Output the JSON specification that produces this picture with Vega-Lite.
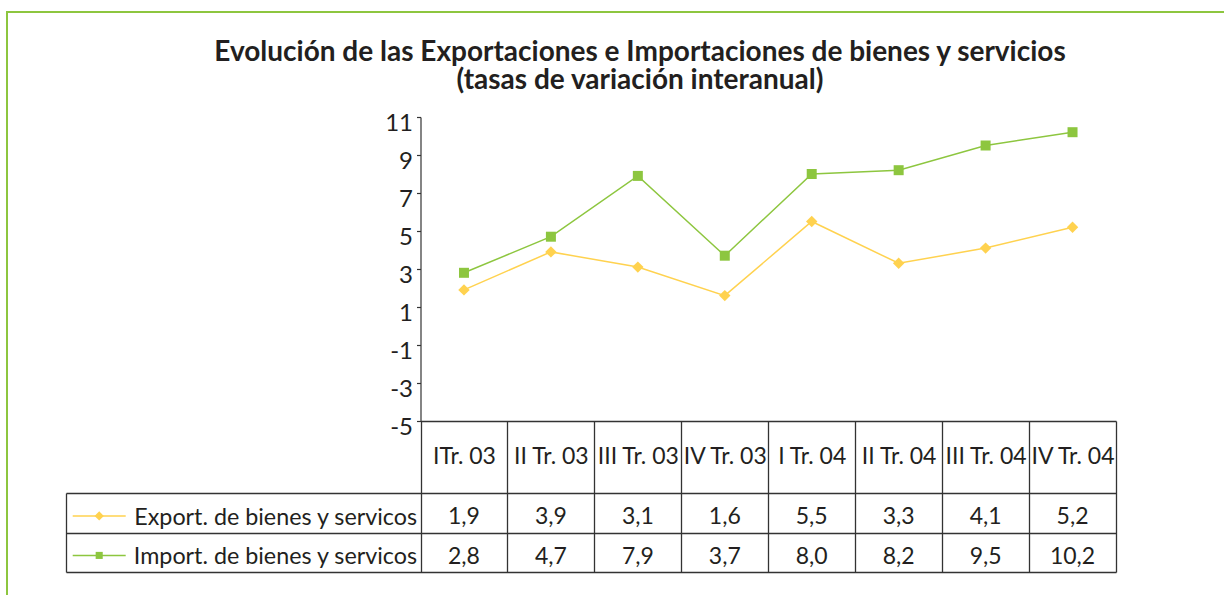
{
  "$schema": "https://vega.github.io/schema/vega-lite/v6.json",
  "width": 1218,
  "height": 585,
  "autosize": {"type": "none"},
  "padding": {"left": 7, "top": 12, "right": -1, "bottom": -2},
  "background": "white",
  "title": {
    "text": ["Evolución de las Exportaciones e Importaciones de bienes y servicios", "(tasas de variación interanual)"],
    "anchor": "middle",
    "frame": "group",
    "font": "Lato",
    "fontSize": 28,
    "fontWeight": "bold",
    "color": "#231f20",
    "lineHeight": 28,
    "offset": -83,
    "dx": 24
  },
  "datasets": {
    "d": [
      {"q": "ITr. 03", "serie": "Export. de bienes y servicos", "v": 1.9},
      {"q": "II Tr. 03", "serie": "Export. de bienes y servicos", "v": 3.9},
      {"q": "III Tr. 03", "serie": "Export. de bienes y servicos", "v": 3.1},
      {"q": "IV Tr. 03", "serie": "Export. de bienes y servicos", "v": 1.6},
      {"q": "I Tr. 04", "serie": "Export. de bienes y servicos", "v": 5.5},
      {"q": "II Tr. 04", "serie": "Export. de bienes y servicos", "v": 3.3},
      {"q": "III Tr. 04", "serie": "Export. de bienes y servicos", "v": 4.1},
      {"q": "IV Tr. 04", "serie": "Export. de bienes y servicos", "v": 5.2},
      {"q": "ITr. 03", "serie": "Import. de bienes y servicos", "v": 2.8},
      {"q": "II Tr. 03", "serie": "Import. de bienes y servicos", "v": 4.7},
      {"q": "III Tr. 03", "serie": "Import. de bienes y servicos", "v": 7.9},
      {"q": "IV Tr. 03", "serie": "Import. de bienes y servicos", "v": 3.7},
      {"q": "I Tr. 04", "serie": "Import. de bienes y servicos", "v": 8.0},
      {"q": "II Tr. 04", "serie": "Import. de bienes y servicos", "v": 8.2},
      {"q": "III Tr. 04", "serie": "Import. de bienes y servicos", "v": 9.5},
      {"q": "IV Tr. 04", "serie": "Import. de bienes y servicos", "v": 10.2}
    ]
  },
  "data": {"name": "d"},
  "layer": [
    {
      "layer": [
        {"mark": {"type": "line", "strokeWidth": 1.5}},
        {
          "mark": {"type": "point", "filled": true, "opacity": 1},
          "encoding": {
            "shape": {"field": "serie", "type": "nominal", "scale": {"domain": ["Export. de bienes y servicos", "Import. de bienes y servicos"], "range": ["diamond", "square"]}, "legend": null},
            "size": {"field": "serie", "type": "nominal", "scale": {"domain": ["Export. de bienes y servicos", "Import. de bienes y servicos"], "range": [130, 100]}, "legend": null}
          }
        }
      ],
      "encoding": {
        "x": {
          "field": "q", "type": "nominal", "sort": null,
          "scale": {"type": "band", "domain": ["ITr. 03", "II Tr. 03", "III Tr. 03", "IV Tr. 03", "I Tr. 04", "II Tr. 04", "III Tr. 04", "IV Tr. 04"], "range": [413.5, 1109], "paddingInner": 0, "paddingOuter": 0},
          "axis": {
            "orient": "bottom", "offset": -176, "title": null, "grid": false,
            "tickBand": "extent", "tickSize": 151, "tickColor": "#333333", "tickWidth": 1.3,
            "domainColor": "#333333", "domainWidth": 1.3,
            "labelAngle": 0, "labelBaseline": "middle", "labelPadding": -116, "labelOverlap": false,
            "labelFont": "Lato", "labelFontSize": 23, "labelColor": "#231f20"
          }
        },
        "y": {
          "field": "v", "type": "quantitative",
          "scale": {"domain": [-5, 11], "range": [409, 105], "nice": false, "zero": false},
          "axis": {
            "orient": "left", "offset": -413.5, "title": null, "grid": false,
            "values": [-5, -3, -1, 1, 3, 5, 7, 9, 11], "format": "d",
            "domainColor": "#333333", "domainWidth": 1.2, "tickColor": "#333333", "tickWidth": 1.2, "tickSize": 4,
            "labelPadding": 4, "labelOffset": 6, "labelFont": "Lato", "labelFontSize": 24, "labelColor": "#231f20"
          }
        },
        "color": {"field": "serie", "type": "nominal", "scale": {"domain": ["Export. de bienes y servicos", "Import. de bienes y servicos"], "range": ["#FFD24F", "#8DC63F"]}, "legend": null}
      }
    },
    {
      "mark": {"type": "text", "font": "Lato", "fontSize": 23, "color": "#231f20", "baseline": "middle"},
      "encoding": {
        "x": {
          "field": "q", "type": "nominal", "sort": null,
          "scale": {"type": "band", "domain": ["ITr. 03", "II Tr. 03", "III Tr. 03", "IV Tr. 03", "I Tr. 04", "II Tr. 04", "III Tr. 04", "IV Tr. 04"], "range": [413.5, 1109], "paddingInner": 0, "paddingOuter": 0},
          "axis": null
        },
        "y": {
          "field": "serie", "type": "nominal", "bandPosition": 0.62,
          "scale": {"type": "band", "domain": ["Export. de bienes y servicos", "Import. de bienes y servicos"], "range": [481, 560], "paddingInner": 0, "paddingOuter": 0},
          "axis": {
            "orient": "right", "offset": -1159, "title": null, "grid": false, "labels": false,
            "tickBand": "extent", "tickSize": 1050, "tickColor": "#333333", "tickWidth": 1.3,
            "domain": true, "domainColor": "#333333", "domainWidth": 1.3
          }
        },
        "text": {"field": "v", "type": "quantitative", "format": ".1f"}
      }
    },
    {
      "transform": [{"filter": "datum.q === 'ITr. 03'"}],
      "layer": [
        {
          "mark": {"type": "rule", "strokeWidth": 1.5},
          "encoding": {
            "x": {"datum": 0, "type": "quantitative", "scale": {"domain": [0, 2], "range": [65.7, 118.7], "nice": false, "zero": false}, "axis": null},
            "x2": {"datum": 2}
          }
        },
        {
          "mark": {"type": "point", "filled": true, "opacity": 1},
          "encoding": {
            "x": {"datum": 1, "type": "quantitative"},
            "shape": {"field": "serie", "type": "nominal", "scale": {"domain": ["Export. de bienes y servicos", "Import. de bienes y servicos"], "range": ["diamond", "square"]}, "legend": null},
            "size": {"field": "serie", "type": "nominal", "scale": {"domain": ["Export. de bienes y servicos", "Import. de bienes y servicos"], "range": [85, 50]}, "legend": null}
          }
        }
      ],
      "encoding": {
        "y": {
          "field": "serie", "type": "nominal", "bandPosition": 0.58,
          "scale": {"type": "band", "domain": ["Export. de bienes y servicos", "Import. de bienes y servicos"], "range": [481, 560], "paddingInner": 0, "paddingOuter": 0},
          "axis": {
            "orient": "left", "offset": -413.5, "title": null, "grid": false, "ticks": false, "domain": false,
            "labelPadding": 4, "labelOffset": 5, "labelLimit": 400, "labelFont": "Lato", "labelFontSize": 23.3, "labelColor": "#231f20"
          }
        },
        "color": {"field": "serie", "type": "nominal", "scale": {"domain": ["Export. de bienes y servicos", "Import. de bienes y servicos"], "range": ["#FFD24F", "#8DC63F"]}, "legend": null}
      }
    }
  ],
  "resolve": {"scale": {"x": "independent", "y": "independent", "size": "independent"}},
  "config": {
    "view": {"stroke": "#8DC63F", "strokeWidth": 2},
    "locale": {"number": {"decimal": ",", "thousands": ".", "grouping": [3], "currency": ["", " €"], "minus": "-"}}
  }
}
